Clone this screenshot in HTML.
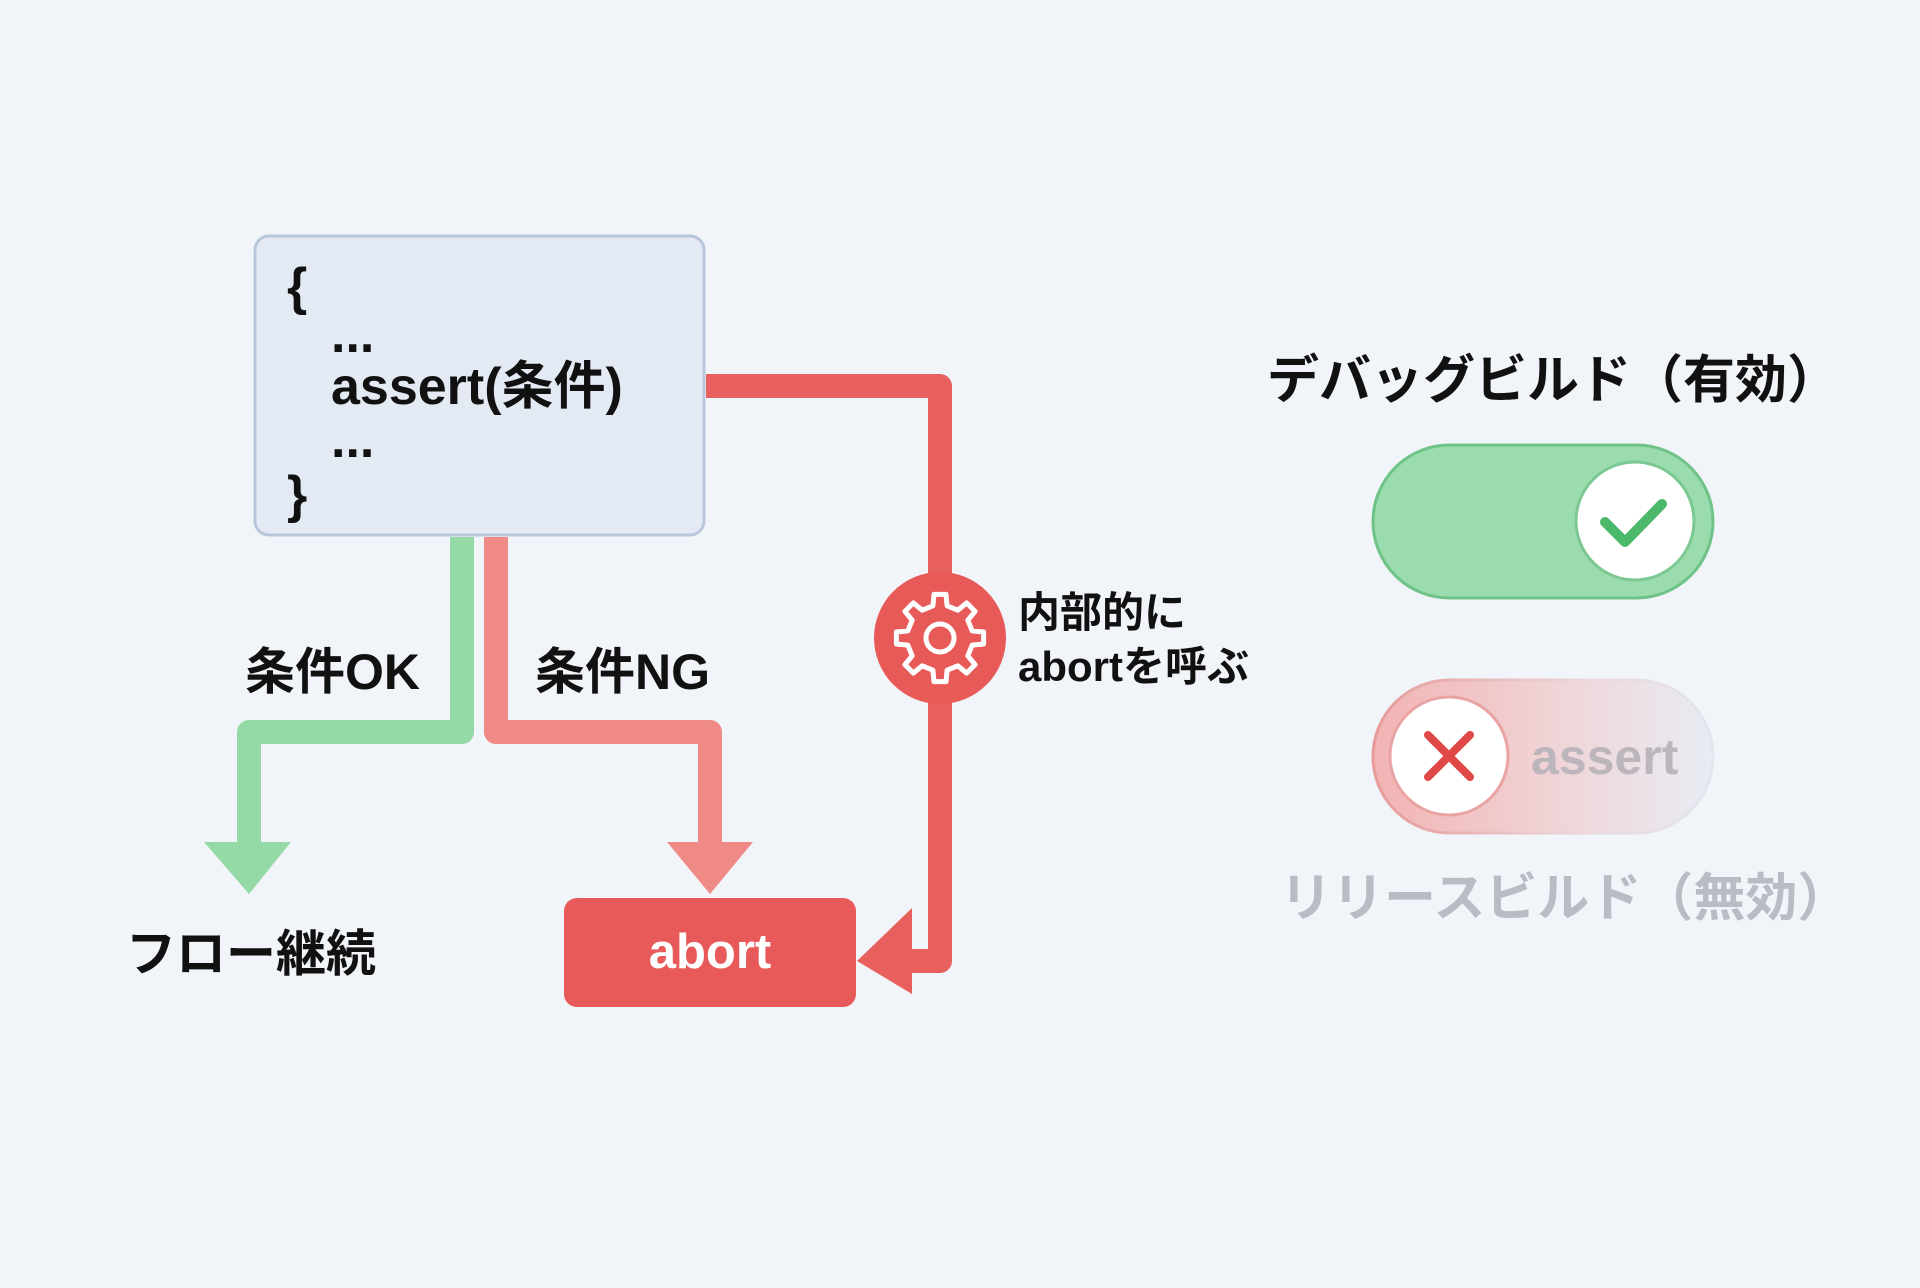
<!DOCTYPE html>
<html><head><meta charset="utf-8"><style>
html,body{margin:0;padding:0;background:#f1f4f8;}
svg{display:block}
text{font-family:"Liberation Sans","Noto Sans CJK JP",sans-serif;font-weight:bold;}
</style></head><body>
<svg width="1920" height="1288" viewBox="0 0 1920 1288" xmlns="http://www.w3.org/2000/svg">
<defs>
<linearGradient id="rg" x1="0" x2="1" y1="0" y2="0">
<stop offset="0" stop-color="#f2b3b3"/><stop offset="0.5" stop-color="#f0d2d4"/><stop offset="1" stop-color="#e8ecf4"/>
</linearGradient>
<linearGradient id="rb" x1="0" x2="1" y1="0" y2="0">
<stop offset="0" stop-color="#e89a9a"/><stop offset="0.6" stop-color="#ead6da"/><stop offset="1" stop-color="#e2e6ee"/>
</linearGradient>
</defs>
<rect width="1920" height="1288" fill="#f1f4f8"/>

<rect x="255" y="236" width="449" height="299" rx="14" fill="#e4eaf3" stroke="#b9c7dd" stroke-width="3"/>
<text x="287" y="304" font-size="52" fill="#111">{</text>
<text x="331" y="352" font-size="52" fill="#111">...</text>
<text x="331" y="404" font-size="52" fill="#111">assert(条件)</text>
<text x="331" y="457" font-size="52" fill="#111">...</text>
<text x="287" y="512" font-size="52" fill="#111">}</text>

<path d="M462 537 V732 H249 V845" fill="none" stroke="#94d9a6" stroke-width="24" stroke-linejoin="round"/>
<polygon points="204,842 291,842 249,894" fill="#94d9a6"/>
<path d="M496 537 V732 H710 V845" fill="none" stroke="#ef8a86" stroke-width="24" stroke-linejoin="round"/>
<polygon points="667,842 753,842 710,894" fill="#ef8a86"/>
<path d="M706 386 H940 V961 H905" fill="none" stroke="#e8605e" stroke-width="24" stroke-linejoin="round"/>
<polygon points="912,908 912,994 857,961" fill="#e8605e"/>
<circle cx="940" cy="638" r="66" fill="#e85a58"/>
<path id="gear" fill="none" stroke="#fff" stroke-width="5" stroke-linejoin="round"/>
<circle cx="940" cy="638" r="14" fill="none" stroke="#fff" stroke-width="5"/>

<text x="1018" y="627" font-size="42" fill="#111">内部的に</text>
<text x="1018" y="681" font-size="42" fill="#111">abortを呼ぶ</text>

<text x="245" y="689" font-size="50" fill="#111">条件OK</text>
<text x="535" y="689" font-size="50" fill="#111">条件NG</text>
<text x="126" y="971" font-size="50" fill="#111">フロー継続</text>

<rect x="564" y="898" width="292" height="109" rx="13" fill="#e85a5a"/>
<text x="710" y="968" font-size="49" fill="#fff" text-anchor="middle">abort</text>

<text x="1267" y="398" font-size="52" fill="#111">デバッグビルド（有効）</text>
<rect x="1373" y="445" width="340" height="153" rx="76.5" fill="#9bdcaf" stroke="#6fc387" stroke-width="3"/>
<circle cx="1635" cy="521" r="59" fill="#fff" stroke="#7cc892" stroke-width="3"/>
<path d="M1605 522 L1625 542 L1662 504" fill="none" stroke="#4cb86a" stroke-width="10" stroke-linecap="round" stroke-linejoin="round"/>

<rect x="1373" y="680" width="340" height="153" rx="76.5" fill="url(#rg)" stroke="url(#rb)" stroke-width="3"/>
<circle cx="1449" cy="756" r="59" fill="#fff" stroke="#e9a3a3" stroke-width="3"/>
<path d="M1428 735 L1470 777 M1470 735 L1428 777" stroke="#e04848" stroke-width="8" stroke-linecap="round"/>
<text x="1531" y="774" font-size="50" fill="#bcb6bc">assert</text>
<text x="1280" y="916" font-size="52" fill="#b8bcc4">リリースビルド（無効）</text>
</svg>
<script>
(function(){var cx=940,cy=638,n=8,ro=44,ri=33,d="";
for(var i=0;i<n;i++){var a=i*2*Math.PI/n,w=Math.PI/n;
var pts=[[a-w*0.55,ri],[a-w*0.35,ro],[a+w*0.35,ro],[a+w*0.55,ri],[a+w*1.45,ri]];
pts.forEach(function(p,j){var x=cx+p[1]*Math.cos(p[0]),y=cy+p[1]*Math.sin(p[0]);d+=(i==0&&j==0?"M":"L")+x.toFixed(1)+" "+y.toFixed(1)+" ";});}
document.getElementById("gear").setAttribute("d",d+"Z");})();
</script>
</body></html>
